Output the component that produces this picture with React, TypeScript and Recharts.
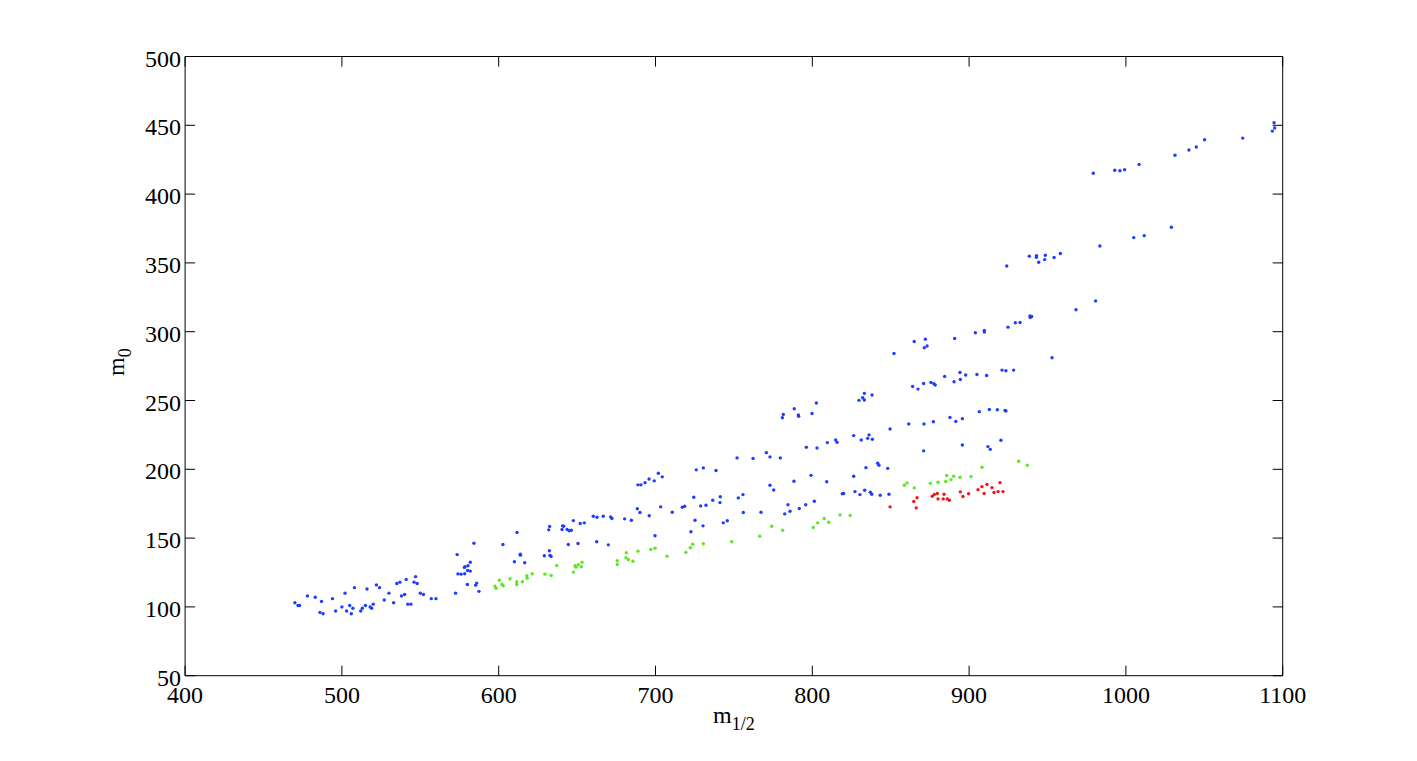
import { ScatterChart, Scatter, XAxis, YAxis, ReferenceLine } from "recharts";

const xTicks = [400, 500, 600, 700, 800, 900, 1000, 1100];
const yTicks = [50, 100, 150, 200, 250, 300, 350, 400, 450, 500];

// [m1/2, m0]
const bluePoints: [number, number][] = [
  [1094.5, 451.8], [1094.9, 448.0], [1093.4, 445.8], [1074.5, 440.7], [1050.2, 439.5],
  [1044.9, 434.2], [1040.2, 432.0], [1031.3, 428.2], [1008.4, 421.6], [999.2, 417.7],
  [996.2, 417.0], [992.9, 417.3], [979.2, 415.1],
  [1029.0, 375.9], [1011.7, 369.8], [1005.0, 368.4], [983.4, 362.3],
  [958.2, 356.8], [954.2, 353.9], [948.6, 355.6], [948.2, 352.4], [944.4, 350.5],
  [943.0, 355.3], [942.9, 354.1], [938.4, 354.9], [924.0, 347.8],
  [980.7, 322.4], [968.2, 315.9], [938.8, 311.5], [939.9, 311.0], [939.0, 310.3],
  [932.5, 306.7], [929.5, 306.5], [924.8, 303.3], [909.7, 300.9], [909.7, 299.7],
  [904.0, 299.2], [952.9, 281.1],
  [890.8, 295.1], [872.1, 294.6], [865.0, 292.9], [873.2, 289.6], [871.4, 288.3], [852.1, 284.2],
  [894.2, 270.4], [897.8, 268.5], [905.0, 268.9], [911.2, 268.2], [921.0, 272.1],
  [923.5, 271.6], [928.4, 272.1], [894.4, 265.3], [884.4, 267.5], [890.4, 263.6],
  [875.7, 263.1], [877.6, 262.2], [878.4, 261.2], [871.0, 262.4], [864.0, 260.2], [867.4, 258.3],
  [833.2, 255.2], [832.1, 252.0], [829.8, 250.1], [833.2, 250.4], [838.1, 254.0],
  [802.6, 248.2], [788.5, 244.0], [781.5, 239.9], [780.9, 237.5], [791.1, 239.5],
  [791.3, 238.5], [799.8, 240.6],
  [895.7, 236.8], [906.5, 241.9], [912.9, 243.5], [918.0, 243.3], [922.9, 242.8],
  [923.5, 242.4], [887.8, 237.7], [891.5, 234.8], [877.2, 234.6], [871.2, 232.9],
  [861.5, 232.9], [849.6, 229.3],
  [826.4, 224.5], [836.2, 225.0], [835.3, 222.5], [838.3, 221.8], [831.2, 221.3],
  [814.9, 221.3], [815.8, 219.6], [809.6, 219.4],
  [895.7, 217.7], [912.0, 216.5], [913.5, 214.5], [920.3, 221.1], [871.0, 213.4],
  [796.2, 216.0], [803.0, 215.5], [770.7, 212.1], [773.0, 209.0], [779.6, 208.3],
  [762.2, 207.8], [752.0, 208.3],
  [834.2, 201.2], [841.7, 204.4], [842.5, 202.9], [848.1, 200.7], [826.4, 194.9],
  [809.2, 190.9], [799.2, 195.6], [788.3, 191.3], [773.0, 188.4], [775.4, 185.0],
  [726.0, 199.6], [730.5, 201.0], [738.6, 199.1],
  [701.8, 197.1], [704.3, 194.5], [695.9, 193.0], [699.2, 191.6], [693.3, 190.3],
  [688.8, 188.7], [690.7, 188.7],
  [827.2, 183.8], [833.4, 184.8], [830.4, 181.6], [837.0, 183.3], [837.9, 181.9],
  [843.3, 181.1], [848.9, 181.9], [819.1, 182.2], [820.0, 182.4],
  [801.3, 176.8], [795.8, 174.2], [791.7, 171.5], [784.5, 174.2], [785.8, 169.5],
  [782.4, 167.6], [767.3, 168.8], [756.0, 168.6],
  [752.8, 179.2], [755.8, 181.6], [741.3, 180.0], [741.1, 175.8], [736.5, 177.5],
  [732.2, 173.9], [728.8, 173.4], [724.4, 179.7], [718.6, 173.1], [717.1, 172.4],
  [743.2, 161.1], [745.8, 162.6], [730.3, 158.9], [725.2, 163.0], [722.6, 154.6],
  [703.3, 172.7], [710.7, 168.8], [688.4, 171.3], [690.1, 168.6], [696.0, 166.2],
  [680.3, 164.0], [684.6, 163.0], [671.4, 165.4], [672.2, 164.2], [666.7, 165.9],
  [662.7, 165.2], [660.3, 165.9], [654.6, 161.1], [652.0, 160.6], [647.6, 162.7],
  [640.8, 158.9], [641.4, 158.6], [640.4, 156.3], [643.6, 156.3], [645.0, 155.3], [646.3, 155.7],
  [644.4, 145.4], [650.6, 146.1], [662.5, 147.3], [669.9, 145.1], [699.7, 151.7],
  [611.7, 154.1], [631.9, 156.0], [632.5, 158.5], [584.2, 146.3], [602.7, 145.4],
  [613.8, 138.3], [613.8, 137.6], [632.3, 140.8], [629.1, 137.2], [632.7, 137.4],
  [633.4, 136.7], [610.0, 132.8], [616.6, 132.1], [581.9, 132.5], [580.4, 129.9],
  [578.5, 129.2], [578.1, 128.7], [580.2, 126.5], [581.9, 126.0], [576.0, 123.8],
  [578.3, 124.1], [580.0, 116.3], [585.3, 115.8], [586.0, 117.3], [587.4, 111.3],
  [573.5, 138.0], [574.0, 124.0], [572.5, 110.0],
  [470, 103], [472, 101], [473, 101], [478, 108], [483, 107], [487, 104], [486, 96],
  [488, 95], [494, 106], [496, 97], [500, 100], [502, 110], [503, 97], [505, 101],
  [506, 95], [507, 99], [508, 114], [512, 97], [513, 99], [515, 101], [516, 113],
  [518, 100], [519, 99], [520, 102], [522, 116], [524, 114], [527, 105], [530, 110],
  [533, 103], [535, 117], [537, 118], [538, 108], [540, 109], [541, 120], [542, 102],
  [544, 102], [546, 118], [547, 122], [548, 117], [550, 110], [552, 109], [557, 106], [560, 106],
];

const greenPoints: [number, number][] = [
  [931.6, 205.8], [937.1, 202.9], [908.2, 201.5], [901.2, 194.7], [894.2, 194.2],
  [890.2, 195.0], [885.7, 195.5], [888.5, 192.5], [885.1, 191.1], [880.2, 190.6],
  [875.3, 189.8], [865.0, 186.5], [858.7, 188.4], [860.4, 190.1],
  [817.7, 166.9], [824.2, 166.4], [807.6, 164.2], [810.5, 161.5], [803.4, 161.1],
  [800.6, 157.7], [781.1, 155.7], [774.1, 158.6], [766.5, 151.4], [748.6, 147.3],
  [730.5, 145.9], [723.7, 145.6], [722.2, 143.0], [719.4, 139.6],
  [707.3, 136.9], [699.7, 142.6], [697.0, 141.8], [688.8, 140.5], [681.4, 139.3],
  [681.2, 135.7], [682.7, 134.3], [685.6, 133.2], [675.6, 133.5], [675.6, 130.8],
  [653.1, 132.5], [650.8, 130.6], [648.7, 129.9], [649.3, 128.9], [652.7, 129.2], [647.6, 125.3],
  [637.0, 130.1], [629.5, 123.8], [633.5, 122.9], [621.4, 124.1], [617.9, 122.6],
  [618.2, 120.9], [615.1, 118.3], [611.5, 118.3], [611.5, 116.3], [607.2, 120.5],
  [600.4, 119.4], [602.1, 116.5], [602.9, 115.4], [597.6, 115.1], [598.3, 113.6],
];

const redPoints: [number, number][] = [
  [849.6, 172.7], [864.7, 176.6], [866.8, 179.3], [866.3, 172.0], [876.5, 180.4],
  [877.8, 181.7], [879.7, 182.4], [880.2, 178.5], [883.5, 178.5], [884.0, 181.9],
  [886.1, 178.5], [887.4, 177.5], [894.4, 183.6], [896.1, 180.2], [899.7, 182.2],
  [905.7, 185.2], [908.2, 187.4], [911.4, 188.9], [914.6, 186.7], [915.9, 183.1],
  [918.5, 183.8], [919.7, 190.3], [921.6, 183.8], [909.6, 182.4],
];

const toData = (pts: [number, number][]) => pts.map(([x, y]) => ({ x, y }));

const X_MIN = 400;
const X_MAX = 1100;
const Y_MIN = 50;
const Y_MAX = 500;
// inward tick length of the top / right box edges, in data units (~10px)
const X_TICK_LEN = 6.4;
const Y_TICK_LEN = 7.3;

const FONT = '"Liberation Serif", "Times New Roman", serif';
const TICK = 10;

const BottomTick = ({ x, y, payload }: any) => (
  <g>
    <line x1={x} y1={y} x2={x} y2={y - TICK} stroke="#000" />
    <text x={x} y={y + 27} textAnchor="middle" fontSize={24} fontFamily={FONT} fill="#000">
      {payload.value}
    </text>
  </g>
);

const LeftTick = ({ x, y, payload }: any) => (
  <g>
    <line x1={x} y1={y} x2={x + TICK} y2={y} stroke="#000" />
    <text x={x - 4} y={y + 10} textAnchor="end" fontSize={24} fontFamily={FONT} fill="#000">
      {payload.value}
    </text>
  </g>
);

const XTitle = ({ viewBox }: any) => (
  <text
    x={viewBox.x + viewBox.width / 2}
    y={viewBox.y + 47}
    textAnchor="middle"
    fontSize={24}
    fontFamily={FONT}
    fill="#000"
  >
    m<tspan dy={7} fontSize={18}>1/2</tspan>
  </text>
);

const YTitle = ({ viewBox }: any) => {
  const cx = 124;
  const cy = viewBox.y + viewBox.height / 2 - 4;
  return (
    <text
      x={cx}
      y={cy}
      transform={`rotate(-90, ${cx}, ${cy})`}
      textAnchor="middle"
      fontSize={24}
      fontFamily={FONT}
      fill="#000"
    >
      m<tspan dy={7} fontSize={18}>0</tspan>
    </text>
  );
};

const dot = (color: string) => (props: any) => (
  <circle cx={props.cx} cy={props.cy} r={1.7} fill={color} />
);

export default function App() {
  return (
    <div style={{ position: "absolute", left: 0, top: 0, background: "#fff" }}>
      <ScatterChart
        width={1417}
        height={761}
        margin={{ top: 56.5, right: 134.3, bottom: 25.3, left: 0 }}
      >
        <XAxis
          type="number"
          dataKey="x"
          domain={[X_MIN, X_MAX]}
          ticks={xTicks}
          interval={0}
          height={60}
          tickSize={0}
          tickMargin={0}
          tick={<BottomTick />}
          axisLine={{ stroke: "#000" }}
          label={{ content: <XTitle /> }}
        />
        <YAxis
          type="number"
          dataKey="y"
          domain={[Y_MIN, Y_MAX]}
          ticks={yTicks}
          interval={0}
          width={185.1}
          tickSize={0}
          tickMargin={0}
          tick={<LeftTick />}
          axisLine={{ stroke: "#000" }}
          label={{ content: <YTitle /> }}
        />
        {/* box: top and right edges with inward ticks */}
        <ReferenceLine y={Y_MAX} stroke="#000" strokeWidth={1} />
        <ReferenceLine x={X_MAX} stroke="#000" strokeWidth={1} />
        {xTicks.map((t) => (
          <ReferenceLine
            key={`tx${t}`}
            segment={[{ x: t, y: Y_MAX }, { x: t, y: Y_MAX - Y_TICK_LEN }]}
            stroke="#000"
          />
        ))}
        {yTicks.map((t) => (
          <ReferenceLine
            key={`ty${t}`}
            segment={[{ x: X_MAX, y: t }, { x: X_MAX - X_TICK_LEN, y: t }]}
            stroke="#000"
          />
        ))}
        <Scatter data={toData(bluePoints)} shape={dot("#1f3dff")} isAnimationActive={false} />
        <Scatter data={toData(greenPoints)} shape={dot("#5ee61e")} isAnimationActive={false} />
        <Scatter data={toData(redPoints)} shape={dot("#ee1818")} isAnimationActive={false} />
      </ScatterChart>
    </div>
  );
}
